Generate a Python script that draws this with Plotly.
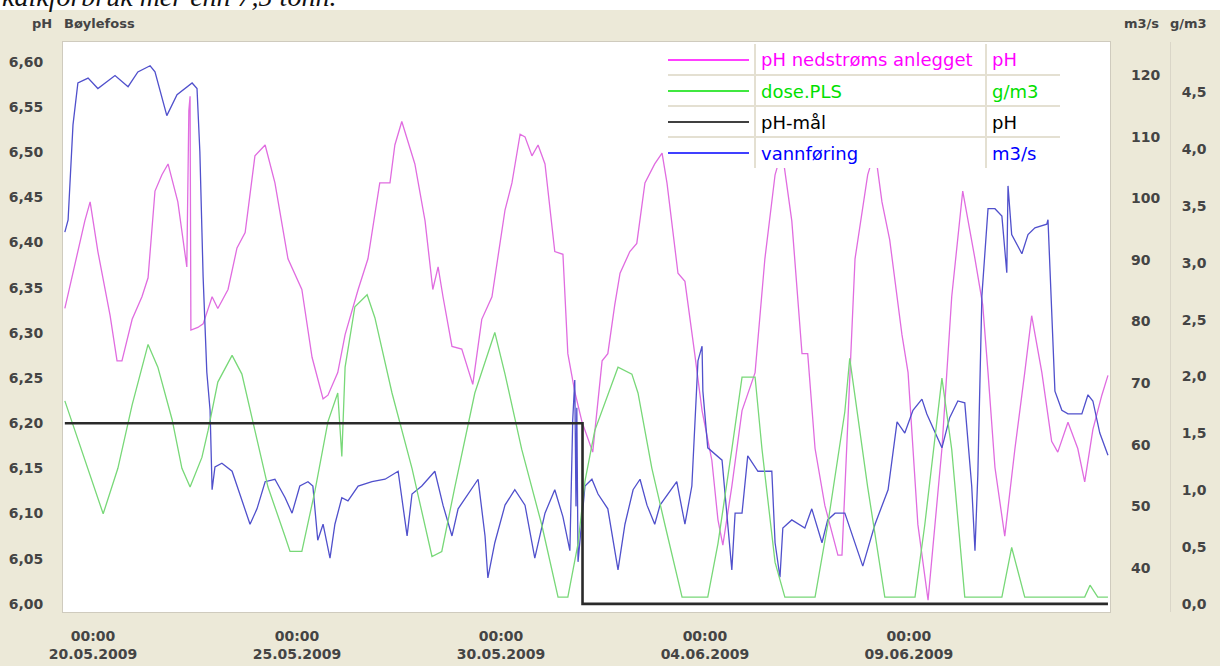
import pandas as pd
import plotly.graph_objects as go

# ---------------- data (time in days since 20.05.2009 00:00) ----------------
START = pd.Timestamp("2009-05-20 00:00")

# pH nedstrøms anlegget  [pH]
ph_t = [-0.69, -0.52, -0.20, -0.07, 0.12, 0.42, 0.59, 0.71, 0.96, 1.20,
        1.35, 1.52, 1.69, 1.84, 2.08, 2.30, 2.35, 2.38, 2.40, 2.57,
        2.70, 2.92, 3.06, 3.31, 3.53, 3.73, 3.97, 4.22, 4.46, 4.78,
        5.12, 5.37, 5.64, 5.76, 6.00, 6.18, 6.50, 6.74, 7.03, 7.28,
        7.40, 7.57, 7.89, 8.14, 8.33, 8.46, 8.58, 8.80, 9.04, 9.31,
        9.53, 9.78, 10.10, 10.27, 10.47, 10.59, 10.76, 10.91, 11.08, 11.32,
        11.52, 11.64, 11.81, 11.99, 12.25, 12.48, 12.62, 12.79, 12.92, 13.16,
        13.33, 13.53, 13.77, 13.95, 14.07, 14.34, 14.51, 14.75, 14.93, 15.17,
        15.32, 15.44, 15.66, 15.91, 16.23, 16.47, 16.72, 16.89, 17.13, 17.38,
        17.52, 17.70, 17.94, 18.26, 18.36, 18.68, 18.99, 19.17, 19.34, 19.53,
        19.83, 19.98, 20.22, 20.47, 20.81, 21.05, 21.32, 21.62, 21.81, 21.94,
        22.11, 22.35, 22.60, 22.84, 23.01, 23.26, 23.50, 23.65, 23.90, 24.14,
        24.31, 24.51, 24.73, 24.88]
ph_v = [6.327, 6.361, 6.424, 6.445, 6.390, 6.319, 6.269, 6.269, 6.315, 6.340,
        6.361, 6.457, 6.475, 6.487, 6.445, 6.373, 6.546, 6.562, 6.303, 6.306,
        6.310, 6.340, 6.327, 6.348, 6.394, 6.411, 6.496, 6.508, 6.466, 6.382,
        6.348, 6.273, 6.227, 6.231, 6.256, 6.298, 6.348, 6.382, 6.466, 6.466,
        6.508, 6.534, 6.487, 6.424, 6.348, 6.373, 6.340, 6.285, 6.282, 6.243,
        6.315, 6.340, 6.436, 6.466, 6.520, 6.517, 6.496, 6.508, 6.487, 6.390,
        6.387, 6.277, 6.235, 6.201, 6.168, 6.269, 6.277, 6.331, 6.366, 6.390,
        6.399, 6.466, 6.487, 6.499, 6.466, 6.366, 6.357, 6.277, 6.214, 6.159,
        6.093, 6.065, 6.130, 6.214, 6.256, 6.382, 6.475, 6.502, 6.424, 6.277,
        6.277, 6.172, 6.109, 6.054, 6.054, 6.382, 6.475, 6.502, 6.445, 6.403,
        6.298, 6.256, 6.088, 6.004, 6.172, 6.340, 6.457, 6.382, 6.331, 6.256,
        6.151, 6.075, 6.172, 6.256, 6.319, 6.256, 6.180, 6.168, 6.201, 6.172,
        6.135, 6.193, 6.231, 6.253]

# vannføring  [m3/s]
q_t = [-0.69, -0.61, -0.49, -0.37, -0.12, 0.12, 0.54, 0.86, 1.10, 1.40,
       1.52, 1.81, 2.06, 2.43, 2.55, 2.62, 2.70, 2.79, 2.87, 2.92,
       2.99, 3.16, 3.41, 3.65, 3.85, 4.02, 4.22, 4.46, 4.71, 4.88,
       5.07, 5.27, 5.39, 5.51, 5.64, 5.81, 5.93, 6.10, 6.25, 6.50,
       6.84, 7.16, 7.48, 7.70, 7.82, 8.06, 8.38, 8.58, 8.80, 8.95,
       9.44, 9.61, 9.68, 9.85, 10.10, 10.34, 10.59, 10.83, 11.08, 11.32,
       11.52, 11.69, 11.76, 11.81, 11.84, 11.86, 11.89, 12.06, 12.23, 12.38,
       12.62, 12.87, 13.04, 13.24, 13.41, 13.58, 13.77, 13.90, 14.09, 14.31,
       14.51, 14.68, 14.83, 14.93, 14.95, 15.07, 15.42, 15.56, 15.66, 15.74,
       15.91, 16.05, 16.30, 16.64, 16.72, 16.84, 16.91, 17.13, 17.45, 17.62,
       17.87, 18.01, 18.19, 18.43, 18.87, 19.17, 19.49, 19.71, 19.90, 20.10,
       20.32, 20.44, 20.56, 20.81, 21.00, 21.20, 21.37, 21.54, 21.62, 21.69,
       21.79, 21.94, 22.11, 22.28, 22.40, 22.43, 22.52, 22.77, 22.92, 23.09,
       23.38, 23.41, 23.58, 23.75, 23.90, 24.24, 24.39, 24.51, 24.68, 24.88]
q_v = [94.5, 96.5, 111.9, 118.7, 119.5, 117.8, 119.9, 118.1, 120.5, 121.5,
       120.5, 113.4, 116.8, 118.7, 117.8, 107.5, 87.2, 71.8, 65.6, 52.7,
       56.4, 57.0, 55.7, 50.9, 47.1, 49.6, 54.0, 54.4, 51.4, 48.9,
       53.3, 54.0, 53.3, 44.5, 47.1, 41.6, 47.1, 51.4, 50.9, 53.3,
       54.0, 54.4, 55.7, 45.2, 52.0, 53.3, 55.7, 50.2, 45.2, 49.6,
       54.4, 45.2, 38.4, 44.1, 50.2, 52.7, 50.2, 41.6, 48.9, 52.7,
       48.3, 42.8, 64.0, 70.5, 50.0, 66.0, 41.0, 53.3, 54.4, 52.0,
       49.6, 39.7, 47.1, 52.7, 54.4, 50.2, 47.1, 50.2, 52.0, 54.0,
       47.1, 53.3, 73.6, 76.0, 68.7, 59.5, 57.5, 47.1, 39.7, 48.9,
       48.9, 58.2, 55.7, 55.7, 44.1, 38.5, 46.5, 47.8, 46.5, 49.6,
       44.1, 47.8, 48.9, 48.9, 40.3, 47.1, 52.7, 63.7, 61.9, 65.6,
       67.4, 65.0, 63.2, 59.5, 64.4, 67.1, 66.8, 53.3, 42.8, 55.1,
       84.2, 98.3, 98.3, 97.1, 87.9, 102.0, 94.1, 91.0, 94.1, 95.2,
       95.8, 96.5, 68.7, 65.6, 65.0, 65.0, 68.1, 67.1, 61.9, 58.3]

# dose.PLS  [g/m3]
dose_t = [-0.69, -0.44, -0.12, 0.25, 0.61, 0.96, 1.35, 1.59, 1.94, 2.18,
          2.38, 2.67, 2.82, 3.06, 3.41, 3.65, 3.97, 4.29, 4.71, 4.83,
          5.12, 5.44, 5.76, 6.00, 6.10, 6.18, 6.42, 6.72, 6.91, 7.33,
          7.82, 8.31, 8.55, 8.87, 9.36, 9.85, 10.10, 10.51, 11.00, 11.40,
          11.64, 11.89, 12.06, 12.30, 12.87, 13.21, 13.36, 13.70, 14.02, 14.44,
          15.07, 15.32, 15.66, 15.91, 16.23, 16.40, 16.72, 16.96, 17.70, 18.01,
          18.43, 18.55, 18.99, 19.41, 20.15, 20.39, 20.81, 21.05, 21.37, 22.28,
          22.52, 22.84, 24.31, 24.44, 24.63, 24.88]
dose_v = [1.786, 1.524, 1.193, 0.793, 1.193, 1.751, 2.282, 2.082, 1.620, 1.193,
          1.028, 1.289, 1.524, 1.951, 2.186, 2.021, 1.524, 1.028, 0.592, 0.462,
          0.462, 0.993, 1.603, 1.855, 1.298, 2.082, 2.613, 2.718, 2.517, 1.855,
          1.193, 0.418, 0.462, 1.028, 1.855, 2.387, 2.021, 1.359, 0.697, 0.061,
          0.061, 0.531, 1.080, 1.524, 2.082, 2.021, 1.855, 1.193, 0.697, 0.061,
          0.061, 0.531, 1.359, 1.995, 1.995, 1.359, 0.366, 0.061, 0.061, 0.697,
          1.690, 2.160, 1.028, 0.061, 0.061, 0.697, 1.986, 1.359, 0.061, 0.061,
          0.497, 0.061, 0.061, 0.166, 0.061, 0.061]

# pH-mål  [pH] (step series)
target_t = [-0.69, 12.0, 24.88]
target_v = [6.20, 6.00, 6.00]

legend_names = ["pH nedstrøms anlegget", "dose.PLS", "pH-mål", "vannføring"]
legend_units = ["pH", "g/m3", "pH", "m3/s"]
legend_colors = ["#FF00FF", "#00E000", "#000000", "#0000FF"]

# ---------------- layout helpers ----------------
W, H = 1220, 666
ML, MR, MT, MB = 63, 20, 42, 54
PW = W - ML - MR
PHh = H - MT - MB


def px(x):
    return (x - ML) / PW


def py(y):
    return (H - MB - y) / PHh


def to_time(days):
    return [START + pd.Timedelta(days=d) for d in days]


PINK = "#E06CE0"
GREEN = "#78D878"
BLUE = "#5050CC"
BLACK = "#2A2A2A"

fig = go.Figure()
fig.add_trace(go.Scatter(x=to_time(ph_t), y=ph_v, mode="lines", yaxis="y",
                         line=dict(color=PINK, width=1.3), name=legend_names[0]))
fig.add_trace(go.Scatter(x=to_time(q_t), y=q_v, mode="lines", yaxis="y2",
                         line=dict(color=BLUE, width=1.3), name=legend_names[3]))
fig.add_trace(go.Scatter(x=to_time(dose_t), y=dose_v, mode="lines", yaxis="y3",
                         line=dict(color=GREEN, width=1.3), name=legend_names[1]))
fig.add_trace(go.Scatter(x=to_time(target_t), y=target_v, mode="lines", yaxis="y4",
                         line=dict(color=BLACK, width=2.6, shape="hv"), name=legend_names[2]))

tickfont = dict(family="DejaVu Sans", size=14, color="#444444", weight="bold")
frame = "#CFCBBE"
x_end = (1110 - ML) / PW
ph_range = [5.991, 6.622]

fig.update_layout(
    width=W, height=H,
    margin=dict(l=ML, r=MR, t=MT, b=MB, autoexpand=False),
    paper_bgcolor="#ECE9D8",
    plot_bgcolor="white",
    separators=",.",
    showlegend=False,
    xaxis=dict(
        type="date", domain=[0, x_end], automargin=False,
        range=to_time([-0.735, 24.93]),
        tick0="2009-05-20", dtick=5 * 86400000,
        tickformat="%H:%M<br>%d.%m.%Y",
        showgrid=False, zeroline=False, ticks="",
        ticklabelstandoff=11,
        tickfont=tickfont,
        showline=True, linecolor=frame, mirror=True,
    ),
    yaxis=dict(
        range=ph_range, tickmode="linear", tick0=6.0, dtick=0.05, automargin=False,
        tickformat=".2f", showgrid=False, zeroline=False, ticks="",
        ticklabelstandoff=16, tickfont=tickfont,
        showline=True, linecolor=frame, mirror=True,
    ),
    yaxis2=dict(
        range=[32.86, 125.35], overlaying="y", side="right", anchor="x", automargin=False,
        tickmode="linear", tick0=40, dtick=10, showgrid=False, zeroline=False,
        ticks="", ticklabelstandoff=20, tickfont=tickfont,
    ),
    yaxis3=dict(
        range=[-0.07, 4.94], overlaying="y", side="right", anchor="free", automargin=False,
        position=px(1170), tickmode="linear", tick0=0, dtick=0.5,
        tickformat=".1f", showgrid=False, zeroline=False, ticks="",
        ticklabelstandoff=8, tickfont=tickfont,
        showline=True, linecolor="#DAD6C8", linewidth=1,
    ),
    yaxis4=dict(range=ph_range, overlaying="y", visible=False),
)

shapes = []
# white strip at the very top
shapes.append(dict(type="rect", xref="paper", yref="paper", x0=px(0), x1=px(W),
                   y0=py(10), y1=py(0), fillcolor="white", line_width=0, layer="above"))
# legend table
LX0, LX1, LY0, LY1 = 668, 1060, 44, 168
shapes.append(dict(type="rect", xref="paper", yref="paper", x0=px(LX0), x1=px(LX1),
                   y0=py(LY1), y1=py(LY0), fillcolor="white", line_width=0, layer="above"))
sep = dict(color="#E4E0D2", width=2)
for yy in [75, 106, 137]:
    shapes.append(dict(type="line", xref="paper", yref="paper", x0=px(LX0), x1=px(LX1),
                       y0=py(yy), y1=py(yy), line=sep, layer="above"))
for xx in [755, 986]:
    shapes.append(dict(type="line", xref="paper", yref="paper", x0=px(xx), x1=px(xx),
                       y0=py(LY1), y1=py(LY0), line=sep, layer="above"))
rows = [60, 91, 122, 153]
for yy, col in zip(rows, legend_colors):
    shapes.append(dict(type="line", xref="paper", yref="paper", x0=px(668), x1=px(749),
                       y0=py(yy), y1=py(yy), line=dict(color=col, width=1.6), layer="above"))

annotations = []
for yy, name, unit, col in zip(rows, legend_names, legend_units, legend_colors):
    annotations.append(dict(xref="paper", yref="paper", x=px(759), y=py(yy), text=name,
                            showarrow=False, xanchor="left", yanchor="middle",
                            font=dict(family="DejaVu Sans", size=18, color=col)))
    annotations.append(dict(xref="paper", yref="paper", x=px(990), y=py(yy), text=unit,
                            showarrow=False, xanchor="left", yanchor="middle",
                            font=dict(family="DejaVu Sans", size=18, color=col)))

hdr = dict(family="DejaVu Sans", size=13, color="#444444", weight="bold")
for xx, txt in [(30, "pH"), (62, "Bøylefoss"), (1122, "m3/s"), (1168, "g/m3")]:
    annotations.append(dict(xref="paper", yref="paper", x=px(xx), y=py(24), text=txt,
                            showarrow=False, xanchor="left", yanchor="middle", font=hdr))

annotations.append(dict(xref="paper", yref="paper", x=px(0), y=py(14),
                        text="<i>kalkforbruk mer enn 7,5 tonn.</i>",
                        showarrow=False, xanchor="left", yanchor="bottom",
                        font=dict(family="Liberation Serif", size=28, color="#111")))

fig.update_layout(shapes=shapes, annotations=annotations)
fig.write_html("out.html")
